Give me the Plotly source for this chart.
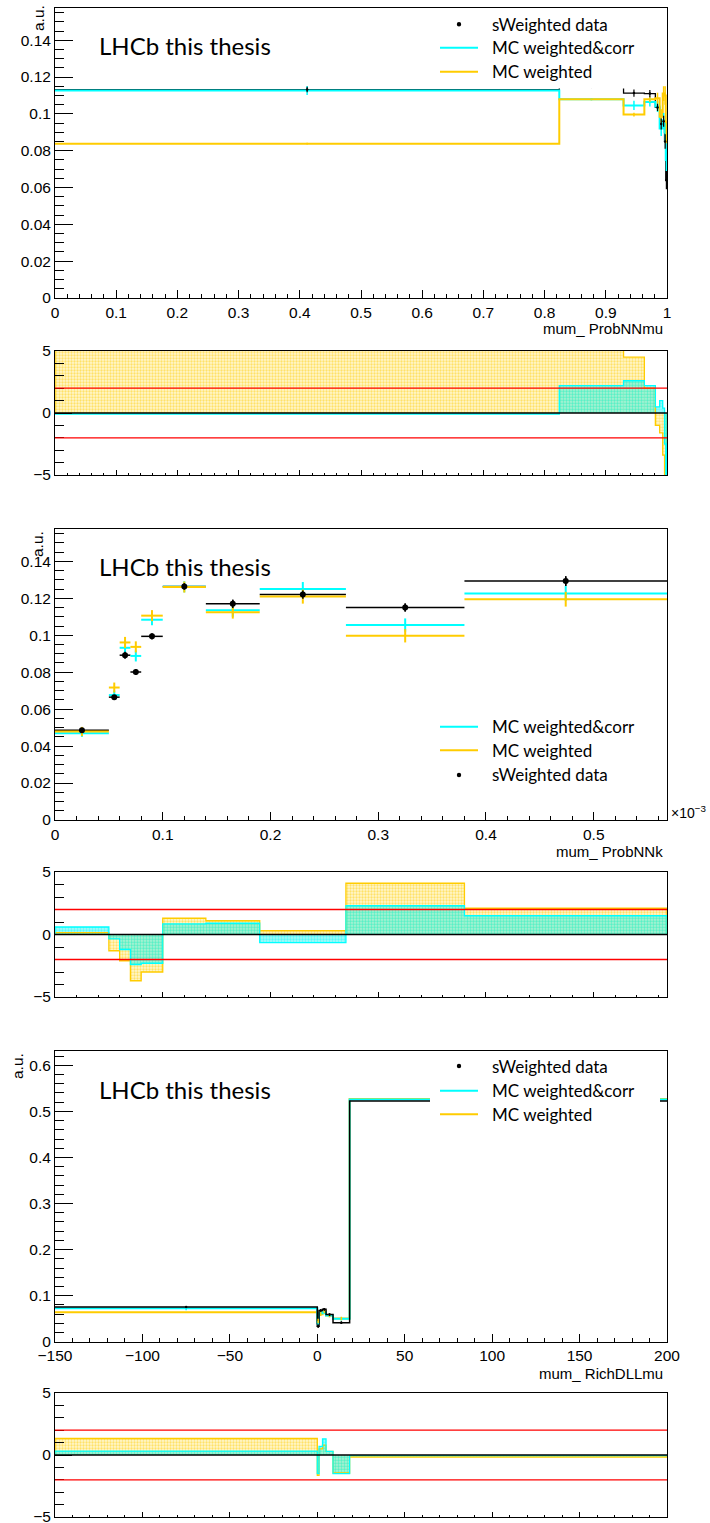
import plotly.graph_objects as go

W, H = 710, 1523
FRAME_L, FRAME_R = 55, 667

CYAN = "#00ffff"
ORANGE = "#ffcc00"
TICK_FONT = dict(family="Liberation Sans, Arial, sans-serif", size=15.5, color="black")
TEXT_FONT = "Lato, 'Open Sans', sans-serif"

# ---------------- mum_ProbNNmu ----------------
probnnmu_edges = [0.0, 0.824, 0.929, 0.963, 0.981, 0.988, 0.993, 0.996, 0.998, 1.0]
probnnmu_data = [0.1132, 0.1152, 0.1113, 0.1110, 0.1035, 0.0945, 0.0960, 0.0850, 0.0640]
probnnmu_data_err = [0.0015, 0.0012, 0.0020, 0.0020, 0.0020, 0.0030, 0.0030, 0.0040, 0.0050]
probnnmu_corr = [0.1127, 0.1079, 0.1046, 0.1065, 0.1040, 0.0920, 0.0965, 0.0900, 0.0750]
probnnmu_corr_err = [0.0024, 0.0005, 0.0025, 0.0025, 0.0030, 0.0040, 0.0040, 0.0050, 0.0060]
probnnmu_w = [0.0838, 0.1079, 0.0996, 0.1079, 0.1085, 0.0985, 0.1110, 0.1100, 0.0900]
probnnmu_w_err = [0.0005, 0.0005, 0.0010, 0.0015, 0.0030, 0.0040, 0.0040, 0.0050, 0.0060]
probnnmu_pull_corr = [-0.08, 2.2, 2.6, 2.2, 0.5, 1.0, 0.4, -2.5, -6.0]
probnnmu_pull_w = [6.0, 6.0, 4.5, 2.0, -1.0, -1.6, -3.4, -6.0, -6.0]

# ---------------- mum_ProbNNk (x in units of 1e-3) ----------------
probnnk_edges = [0.0, 0.05, 0.06, 0.07, 0.08, 0.10, 0.14, 0.19, 0.27, 0.38, 0.568]
probnnk_data = [0.0486, 0.0665, 0.0892, 0.0801, 0.0994, 0.1264, 0.1170, 0.1220, 0.1150, 0.1293]
probnnk_data_err = [0.0012, 0.0012, 0.0018, 0.0015, 0.0016, 0.0018, 0.0022, 0.0022, 0.0022, 0.0026]
probnnk_corr = [0.0470, 0.0676, 0.0932, 0.0888, 0.1084, 0.1262, 0.1135, 0.1250, 0.1055, 0.1226]
probnnk_corr_err = [0.0020, 0.0025, 0.0030, 0.0030, 0.0030, 0.0030, 0.0035, 0.0038, 0.0036, 0.0040]
probnnk_w = [0.0479, 0.0717, 0.0961, 0.0937, 0.1106, 0.1261, 0.1125, 0.1209, 0.0997, 0.1195]
probnnk_w_err = [0.0025, 0.0027, 0.0030, 0.0030, 0.0030, 0.0030, 0.0035, 0.0038, 0.0036, 0.0040]
probnnk_pull_corr = [0.6, -0.35, -1.2, -2.4, -2.3, 0.85, 0.9, -0.65, 2.3, 1.5]
probnnk_pull_w = [0.15, -1.3, -2.1, -3.7, -3.0, 1.3, 1.1, 0.3, 4.1, 2.1]

# ---------------- mum_RichDLLmu ----------------
richdll_edges = [-150.0, 0.0, 1.0, 3.0, 5.0, 9.0, 18.5, 200.0]
richdll_data = [0.0754, 0.0340, 0.0680, 0.0704, 0.0590, 0.0414, 0.5225]
richdll_data_err = [0.0020, 0.0040, 0.0030, 0.0030, 0.0030, 0.0030, 0.0030]
richdll_corr = [0.0726, 0.0400, 0.0620, 0.0640, 0.0570, 0.0500, 0.5255]
richdll_corr_err = [0.0040, 0.0050, 0.0040, 0.0040, 0.0040, 0.0040, 0.0040]
richdll_w = [0.0639, 0.0450, 0.0600, 0.0660, 0.0570, 0.0505, 0.5270]
richdll_w_err = [0.0010, 0.0050, 0.0040, 0.0040, 0.0040, 0.0040, 0.0040]
richdll_pull_corr = [0.32, -1.5, 0.7, 1.3, 0.3, -1.5, -0.05]
richdll_pull_w = [1.33, -1.65, 0.5, 0.8, 0.3, -1.45, -0.16]

# vertical pixel extents of the six pads (top, bottom)
PADS = [(8, 298), (351, 475), (529, 820), (872, 997), (1051, 1341.8), (1393, 1517)]


def py(p):
    return 1 - p / H


def px(p):
    return p / W


def centers(edges):
    return [(a + b) / 2 for a, b in zip(edges[:-1], edges[1:])]


def widths(edges):
    return [b - a for a, b in zip(edges[:-1], edges[1:])]


fig = go.Figure()


def step(edges, vals, color, width, ax):
    fig.add_trace(go.Scatter(
        x=list(edges), y=list(vals) + [vals[-1]], mode="lines",
        line=dict(color=color, width=width, shape="hv"),
        xaxis="x" + ax, yaxis="y" + ax, showlegend=False, hoverinfo="skip"))


def errs(edges, vals, err, color, thick, msize, ax, horiz=False):
    ex = None
    if horiz:
        ex = dict(type="data", array=[w / 2 for w in widths(edges)],
                  color=color, thickness=thick, width=0)
    marker = dict(size=msize, color=color) if msize > 0 else dict(size=2, color=color, opacity=0)
    fig.add_trace(go.Scatter(
        x=centers(edges), y=vals, mode="markers", marker=marker,
        error_y=dict(type="data", array=err, color=color, thickness=thick, width=0),
        error_x=ex, xaxis="x" + ax, yaxis="y" + ax,
        showlegend=False, hoverinfo="skip"))


def pulls(edges, vals, color, bg, ax):
    fig.add_trace(go.Bar(
        x=centers(edges), y=vals, width=widths(edges),
        marker=dict(color=bg, line=dict(width=0),
                    pattern=dict(shape=".", fgcolor=color, size=3,
                                 solidity=0.45, fillmode="overlay")),
        xaxis="x" + ax, yaxis="y" + ax, showlegend=False, hoverinfo="skip"))
    xs = [edges[0]] + list(edges) + [edges[-1]]
    ys = [0] + list(vals) + [vals[-1], 0]
    fig.add_trace(go.Scatter(
        x=xs, y=ys, mode="lines", line=dict(color=color, width=1.3, shape="hv"),
        xaxis="x" + ax, yaxis="y" + ax, showlegend=False, hoverinfo="skip"))


# ---- pad 1: ProbNNmu
step(probnnmu_edges, probnnmu_data, "black", 1.3, "")
step(probnnmu_edges, probnnmu_corr, CYAN, 2, "")
step(probnnmu_edges, probnnmu_w, ORANGE, 2, "")
errs(probnnmu_edges, probnnmu_corr, probnnmu_corr_err, CYAN, 1.5, 0, "")
errs(probnnmu_edges, probnnmu_w, probnnmu_w_err, ORANGE, 1.5, 0, "")
errs(probnnmu_edges, probnnmu_data, probnnmu_data_err, "black", 1.2, 2.5, "")
pulls(probnnmu_edges, probnnmu_pull_w, ORANGE, "rgba(255,220,80,0.28)", "2")
pulls(probnnmu_edges, probnnmu_pull_corr, CYAN, "rgba(0,235,235,0.35)", "2")

# ---- pad 3: ProbNNk (crosses spanning each bin)
errs(probnnk_edges, probnnk_data, probnnk_data_err, "black", 1.5, 0, "3", horiz=True)
errs(probnnk_edges, probnnk_corr, probnnk_corr_err, CYAN, 2, 0, "3", horiz=True)
errs(probnnk_edges, probnnk_w, probnnk_w_err, ORANGE, 2, 0, "3", horiz=True)
errs(probnnk_edges, probnnk_data, probnnk_data_err, "black", 1.5, 6, "3")
pulls(probnnk_edges, probnnk_pull_w, ORANGE, "rgba(255,220,80,0.28)", "4")
pulls(probnnk_edges, probnnk_pull_corr, CYAN, "rgba(0,235,235,0.35)", "4")

# ---- pad 5: RichDLLmu
step(richdll_edges, richdll_w, ORANGE, 2, "5")
step(richdll_edges, richdll_corr, CYAN, 2, "5")
step(richdll_edges, richdll_data, "black", 1.5, "5")
errs(richdll_edges, richdll_corr, richdll_corr_err, CYAN, 1.5, 0, "5")
errs(richdll_edges, richdll_w, richdll_w_err, ORANGE, 1.5, 0, "5")
errs(richdll_edges, richdll_data, richdll_data_err, "black", 1.2, 2.5, "5")
pulls(richdll_edges, richdll_pull_w, ORANGE, "rgba(255,220,80,0.28)", "6")
pulls(richdll_edges, richdll_pull_corr, CYAN, "rgba(0,235,235,0.35)", "6")

xdom = [px(FRAME_L), px(FRAME_R)]
axis_common = dict(showline=True, linecolor="black", linewidth=1, mirror=True,
                   ticks="inside", tickcolor="black", tickwidth=1, automargin=False,
                   ticklabeloverflow="allow",
                   showgrid=False, zeroline=False, tickfont=TICK_FONT)

xranges = {1: [0, 1.0000001], 3: [0, 0.568], 5: [-150, 200.00001]}
xdt = {1: (0.1, 0.02), 3: (0.1, 0.02), 5: (50, 10)}
yranges = {1: [0, 0.1575], 3: [0, 0.1575], 5: [0, 0.631]}
ydt = {1: (0.02, 0.005), 3: (0.02, 0.005), 5: (0.1, 0.02)}

layout = dict(width=W, height=H, autosize=False,
              margin=dict(l=0, r=0, t=0, b=0, pad=0, autoexpand=False),
              paper_bgcolor="white", plot_bgcolor="white",
              barmode="overlay", showlegend=False)

for i in range(1, 7):
    top, bot = PADS[i - 1]
    main = i % 2 == 1
    base = i if main else i - 1
    xa = dict(axis_common, domain=xdom, anchor="y" + ("" if i == 1 else str(i)),
              range=xranges[base], tick0=0, dtick=xdt[base][0],
              ticklen=8 if main else 5,
              showticklabels=main,
              minor=dict(ticks="inside", dtick=xdt[base][1], ticklen=4 if main else 2.5,
                         tickcolor="black", showgrid=False))
    if base == 5:
        xa["tick0"] = -150
        xa["minor"]["tick0"] = -150
    if main:
        ya = dict(axis_common, domain=[py(bot), py(top)],
                  anchor="x" + ("" if i == 1 else str(i)),
                  range=yranges[base], tick0=0, dtick=ydt[base][0], ticklen=18,
                  minor=dict(ticks="inside", dtick=ydt[base][1], ticklen=9,
                             tickcolor="black", showgrid=False))
    else:
        ya = dict(axis_common, domain=[py(bot), py(top)], anchor="x" + str(i),
                  range=[-5, 5], tickvals=[-5, 0, 5], ticklen=17,
                  minor=dict(ticks="inside", dtick=1, ticklen=8.5,
                             tickcolor="black", showgrid=False))
    key = "" if i == 1 else str(i)
    layout["xaxis" + key] = xa
    layout["yaxis" + key] = ya

fig.update_layout(**layout)

shapes = []
# reference lines in the pull pads
for ax in ["2", "4", "6"]:
    for yv, col in [(2, "red"), (-2, "red"), (0, "black")]:
        shapes.append(dict(type="line", xref="x%s domain" % ax, yref="y" + ax,
                           x0=0, x1=1, y0=yv, y1=yv, layer="above",
                           line=dict(color=col, width=1.3)))

annotations = []

# legends: white boxes, line samples, dot for data
legends = [
    (9, 88.5, [("dot", 24.3, "sWeighted data"), (CYAN, 47.7, "MC weighted&corr"),
               (ORANGE, 71.7, "MC weighted")]),
    (714, 787, [(CYAN, 726.7, "MC weighted&corr"), (ORANGE, 750.3, "MC weighted"),
                ("dot", 775, "sWeighted data")]),
    (1052, 1124, [("dot", 1066, "sWeighted data"), (CYAN, 1090.7, "MC weighted&corr"),
                  (ORANGE, 1114.3, "MC weighted")]),
]
for ytop, ybot, rows in legends:
    shapes.append(dict(type="rect", xref="paper", yref="paper",
                       x0=px(430), x1=px(660), y0=py(ybot), y1=py(ytop),
                       fillcolor="white", line=dict(width=0), layer="above"))
    for kind, yy, label in rows:
        if kind == "dot":
            shapes.append(dict(type="circle", xref="paper", yref="paper",
                               x0=px(456.8), x1=px(461.2), y0=py(yy + 2.2), y1=py(yy - 2.2),
                               fillcolor="black", line=dict(width=0), layer="above"))
        else:
            shapes.append(dict(type="line", xref="paper", yref="paper",
                               x0=px(440), x1=px(478), y0=py(yy), y1=py(yy),
                               line=dict(color=kind, width=2), layer="above"))
        annotations.append(dict(text=label, xref="paper", yref="paper",
                                x=px(490), y=py(yy), xanchor="left", yanchor="middle",
                                showarrow=False,
                                font=dict(family=TEXT_FONT, size=17, color="black")))

# experiment label
for yc in [46, 566, 1089]:
    annotations.append(dict(text="LHCb this thesis", xref="paper", yref="paper",
                            x=px(97), y=py(yc), xanchor="left", yanchor="middle",
                            showarrow=False,
                            font=dict(family=TEXT_FONT, size=24, color="black")))

# y-axis titles
for xc, yc in [(38, 18), (38, 544), (17, 1066)]:
    annotations.append(dict(text="a.u.", xref="paper", yref="paper",
                            x=px(xc), y=py(yc), xanchor="center", yanchor="middle",
                            textangle=-90, showarrow=False, font=TICK_FONT))

# x-axis titles
for label, yc in [("mum_ ProbNNmu", 328), ("mum_ ProbNNk", 851), ("mum_ RichDLLmu", 1373)]:
    annotations.append(dict(text=label, xref="paper", yref="paper",
                            x=px(665), y=py(yc), xanchor="right", yanchor="middle",
                            showarrow=False, font=dict(TICK_FONT, size=15)))

annotations.append(dict(text="×10<sup>−3</sup>", xref="paper", yref="paper",
                        x=px(669), y=py(812), xanchor="left", yanchor="middle",
                        showarrow=False, font=dict(TICK_FONT, size=14)))

fig.update_layout(shapes=shapes, annotations=annotations)
fig.write_html("out.html")
